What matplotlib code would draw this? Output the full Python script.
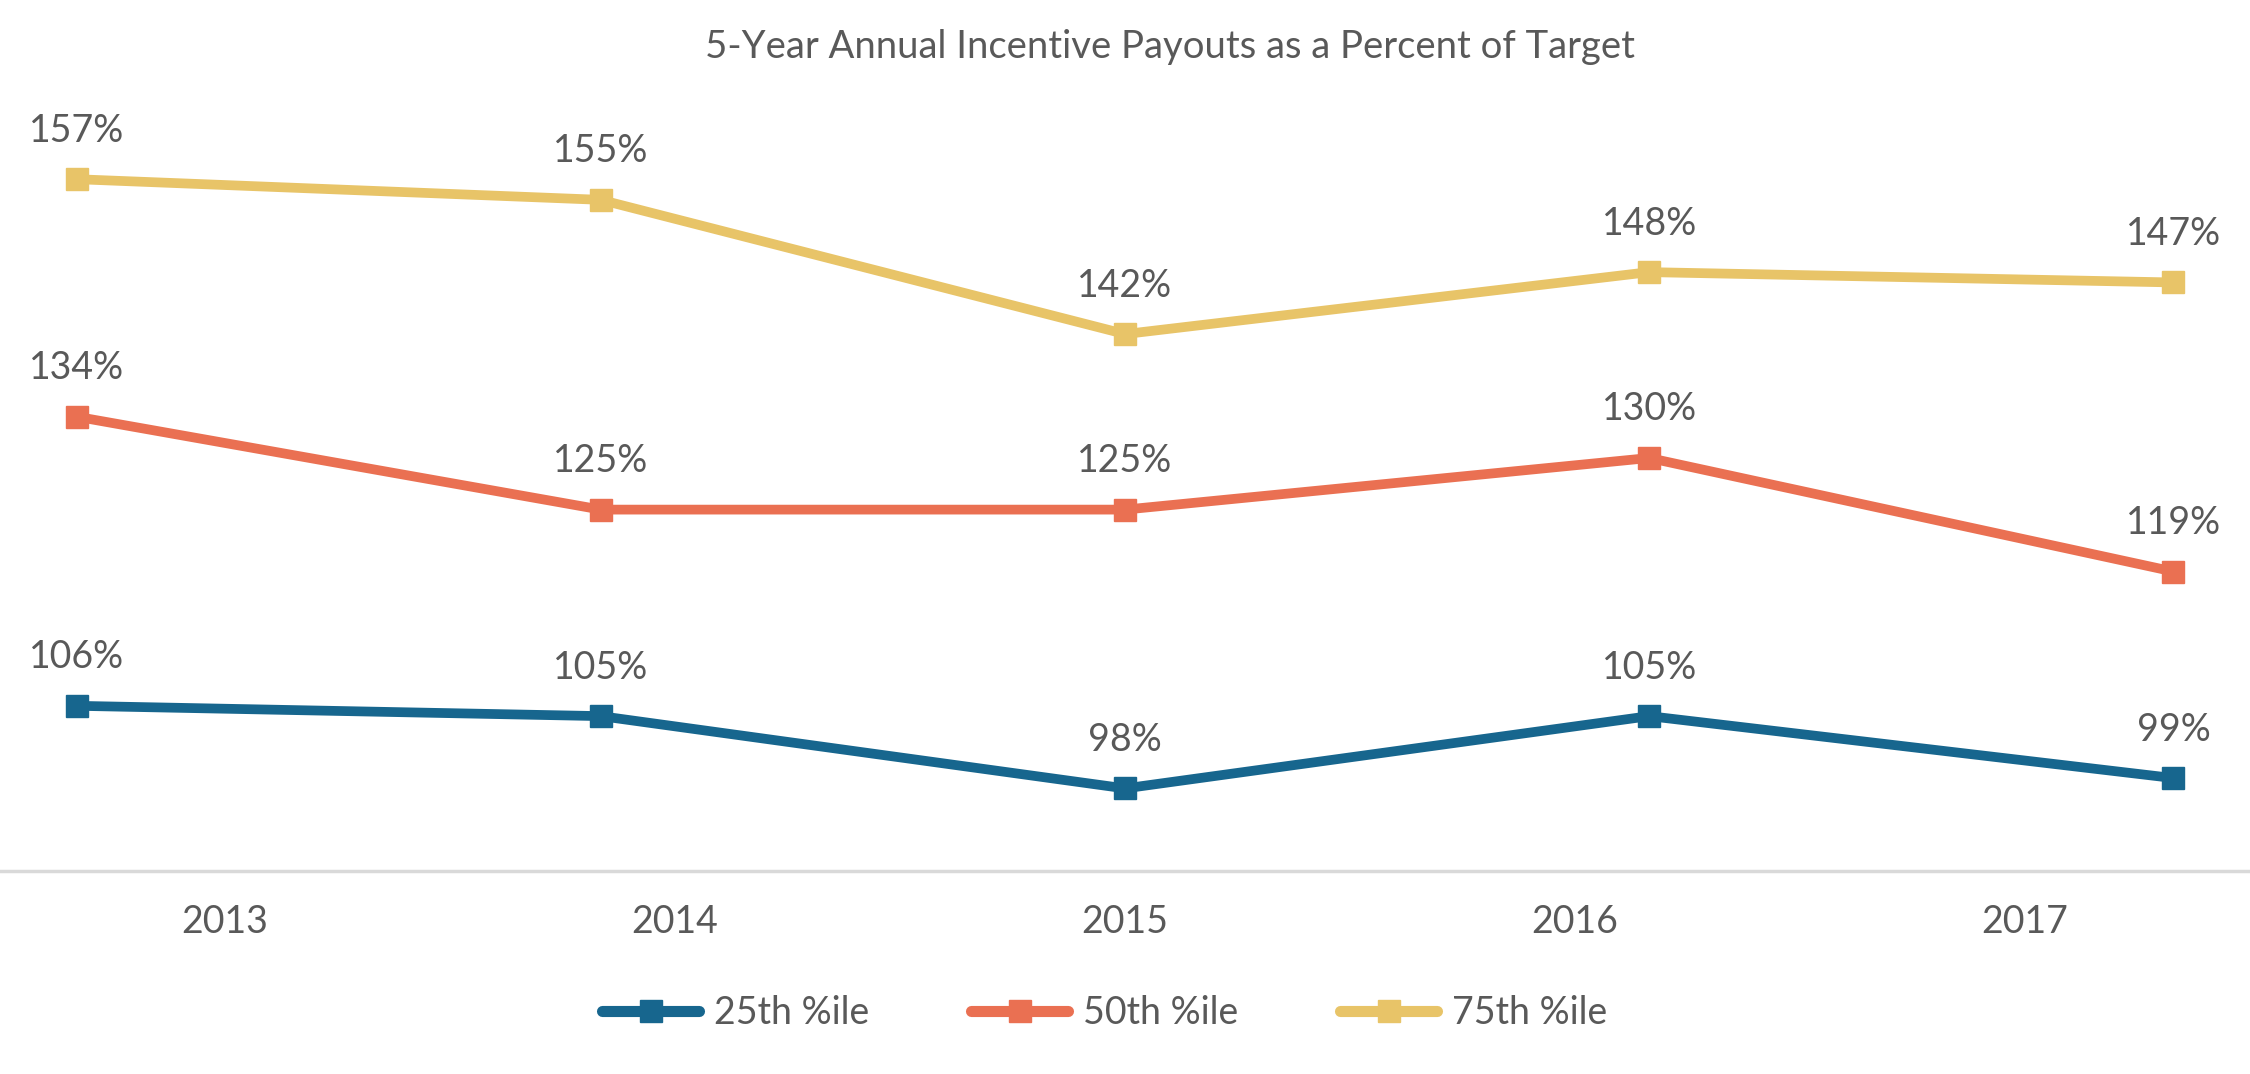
import matplotlib
matplotlib.use("Agg")
import matplotlib.pyplot as plt
from matplotlib.lines import Line2D

years = ["2013", "2014", "2015", "2016", "2017"]
p25 = [106, 105, 98, 105, 99]
p50 = [134, 125, 125, 130, 119]
p75 = [157, 155, 142, 148, 147]
series_names = ["25th %ile", "50th %ile", "75th %ile"]
colors = ["#17668E", "#EA7052", "#E8C468"]

text_gray = "#595959"
plt.rcParams["font.family"] = ["Lato", "DejaVu Sans"]

fig = plt.figure(figsize=(22.5, 10.74), dpi=100)
ax = fig.add_axes([0.0, 0.189, 1.0, 0.673])

x = list(range(len(years)))
for vals, col in zip([p25, p50, p75], colors):
    ax.plot(x, vals, color=col, lw=7, marker="s", ms=16, solid_joinstyle="miter")
    for xi, v in zip(x, vals):
        ax.annotate(f"{v}%", (xi, v), xytext=(0, 22), textcoords="offset points",
                    ha="center", va="bottom", fontsize=27, color=text_gray)

ax.set_xlim(-0.146, 4.146)
ax.set_ylim(90, 160)
ax.set_xticks([])
ax.set_yticks([])
for side in ["top", "left", "right"]:
    ax.spines[side].set_visible(False)
ax.spines["bottom"].set_color("#D9D9D9")
ax.spines["bottom"].set_linewidth(2.5)

# category labels sit on their own evenly spaced axis, like the original
ax2 = ax.twiny()
ax2.set_xlim(-0.5, 4.5)
ax2.xaxis.set_ticks_position("bottom")
ax2.set_xticks(x, years)
ax2.tick_params(axis="x", length=0, pad=24, labelsize=27, labelcolor=text_gray)
for side in ax2.spines:
    ax2.spines[side].set_visible(False)

fig.text(0.52, 0.956, "5-Year Annual Incentive Payouts as a Percent of Target",
         ha="center", va="center", fontsize=27.5, color=text_gray)

handles = [Line2D([0], [0], color=c, lw=8, marker="s", ms=16, solid_capstyle="round")
           for c in colors]
fig.legend(handles, series_names, loc="center", bbox_to_anchor=(0.491, 0.057), ncol=3,
           frameon=False, fontsize=27, labelcolor=text_gray, handlelength=2.6,
           handletextpad=0.4, columnspacing=2.7)

fig.savefig("out.png", dpi=100, facecolor="white")
